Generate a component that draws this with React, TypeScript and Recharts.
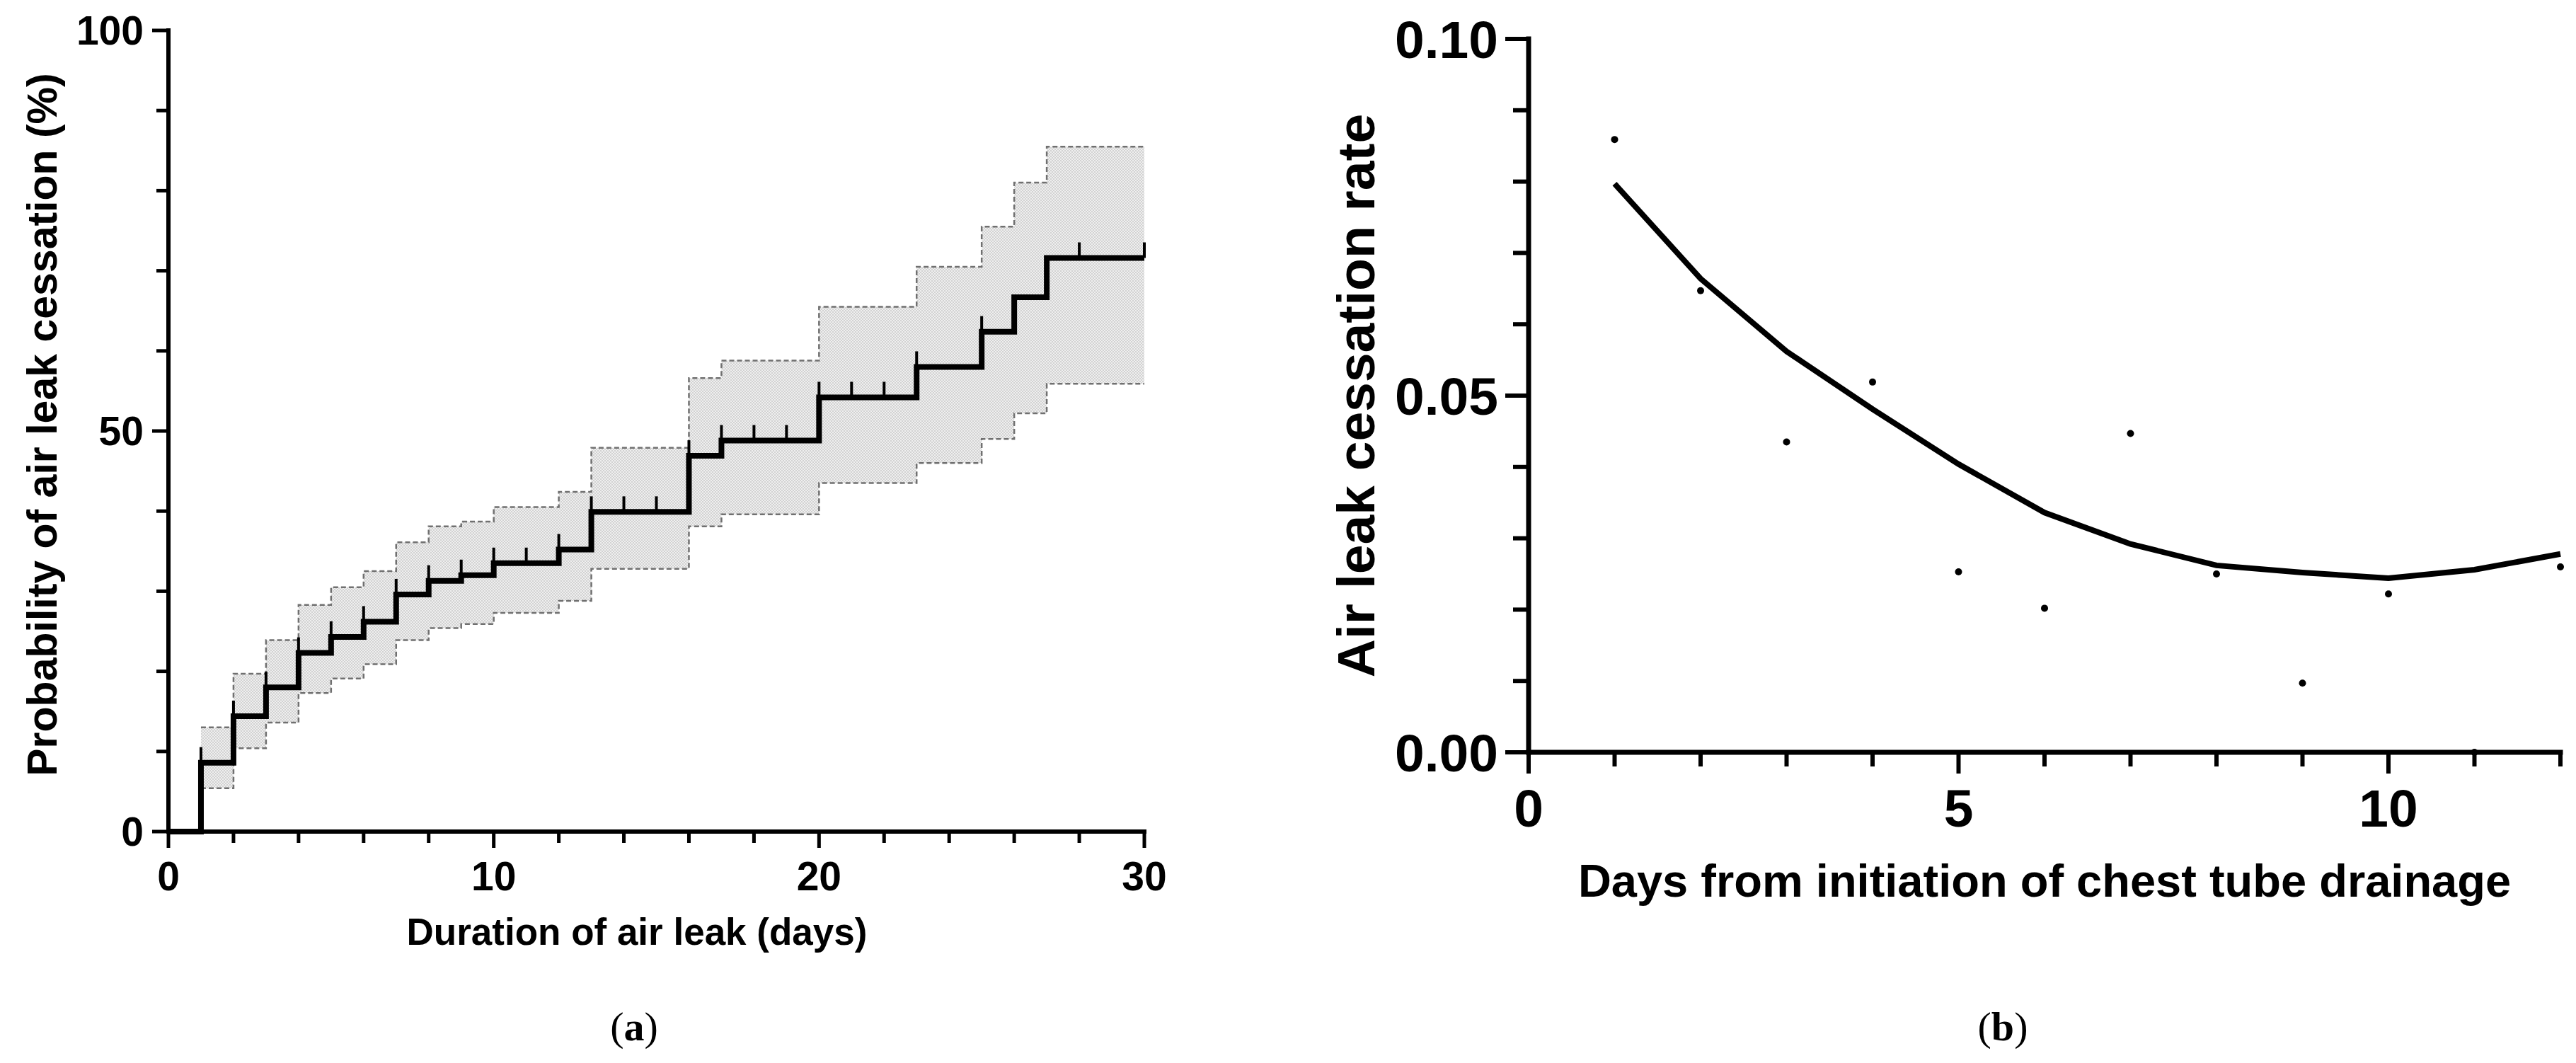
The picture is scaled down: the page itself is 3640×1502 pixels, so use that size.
import React from 'react';
import { ComposedChart, Line, Area, Scatter, XAxis, YAxis } from 'recharts';

const FONT = '"Liberation Sans", Arial, Helvetica, sans-serif';

// (a) Kaplan-Meier curve: step times and values (%)
const kmDays = [0, 1, 2, 3, 4, 5, 6, 7, 8, 9, 10, 12, 13, 16, 17, 20, 23, 25, 26, 27, 30];
const kmValues = [0, 8.6, 14.4, 18.0, 22.3, 24.3, 26.2, 29.6, 31.3, 32.0, 33.5, 35.2, 39.9, 46.9, 48.8, 54.2, 58.0, 62.4, 66.7, 71.6, 71.6];
const ciUpper = [null, 13.0, 19.7, 23.9, 28.3, 30.5, 32.5, 36.1, 38.1, 38.7, 40.5, 42.4, 47.9, 56.6, 58.8, 65.5, 70.5, 75.5, 81.0, 85.5, 85.5];
const ciLower = [null, 5.4, 10.4, 13.6, 17.3, 19.1, 20.9, 23.9, 25.4, 25.9, 27.3, 28.8, 32.8, 38.1, 39.6, 43.5, 46.0, 49.0, 52.2, 55.9, 55.9];
const censorDays = [1, 2, 3, 4, 5, 6, 7, 8, 9, 10, 11, 12, 13, 14, 15, 16, 17, 18, 19, 20, 21, 22, 23, 25, 28, 30];

const leftXTicks = [0, 2, 4, 6, 8, 10, 12, 14, 16, 18, 20, 22, 24, 26, 28, 30];
const leftXMajor = [0, 10, 20, 30];
const leftYTicks = [0, 10, 20, 30, 40, 50, 60, 70, 80, 90, 100];
const leftYMajor = [0, 50, 100];

// (b) daily cessation rate and smoothed curve
const rateDays = [1, 2, 3, 4, 5, 6, 7, 8, 9, 10, 11, 12];
const rateObserved = [0.0859, 0.0647, 0.0435, 0.0519, 0.0253, 0.0202, 0.0447, 0.025, 0.0097, 0.0222, 0.0, 0.026];
const rateFitted = [0.0797, 0.0664, 0.0562, 0.0481, 0.0404, 0.0336, 0.0292, 0.0262, 0.0252, 0.0244, 0.0256, 0.0278];

const rightXTicks = [0, 1, 2, 3, 4, 5, 6, 7, 8, 9, 10, 11, 12];
const rightXMajor = [0, 5, 10];
const rightYTicks = [0, 0.01, 0.02, 0.03, 0.04, 0.05, 0.06, 0.07, 0.08, 0.09, 0.1];
const rightYMajor = [0, 0.05, 0.1];

const kmData = kmDays.map((day, i) => ({
  day,
  km: kmValues[i],
  hi: ciUpper[i],
  lo: ciLower[i],
  band: ciUpper[i] == null ? null : [ciLower[i], ciUpper[i]],
}));

const levelAt = (d: number) => {
  let v = 0;
  kmDays.forEach((k, i) => {
    if (k <= d) v = kmValues[i];
  });
  return v;
};
const censorData = censorDays.map((day) => ({ day, km: levelAt(day) }));

const rateData = rateDays.map((day, i) => ({ day, observed: rateObserved[i], fitted: rateFitted[i] }));

const isIn = (list: number[], v: number) => list.some((m) => Math.abs(m - v) < 1e-9);

const makeYTick =
  (major: number[], majorLen: number, minorLen: number, gap: number, fontSize: number, sw: number, fmt: (v: number) => string) =>
  (props: any) => {
    const { x, y, payload } = props;
    const big = isIn(major, payload.value);
    return (
      <g>
        <line x1={x - (big ? majorLen : minorLen)} x2={x} y1={y} y2={y} stroke="#000" strokeWidth={sw} />
        {big && (
          <text x={x - gap} y={y + fontSize * 0.358} textAnchor="end" fontSize={fontSize} fontWeight="bold" fontFamily={FONT} fill="#000">
            {fmt(payload.value)}
          </text>
        )}
      </g>
    );
  };

const makeXTick =
  (major: number[], majorLen: number, minorLen: number, baseline: number, fontSize: number, sw: number) =>
  (props: any) => {
    const { x, y, payload } = props;
    const big = isIn(major, payload.value);
    return (
      <g>
        <line x1={x} x2={x} y1={y} y2={y + (big ? majorLen : minorLen)} stroke="#000" strokeWidth={sw} />
        {big && (
          <text x={x} y={y + baseline} textAnchor="middle" fontSize={fontSize} fontWeight="bold" fontFamily={FONT} fill="#000">
            {payload.value}
          </text>
        )}
      </g>
    );
  };

const CensorMark = (props: any) => {
  const { cx, cy } = props;
  return <line x1={cx} x2={cx} y1={cy} y2={cy - 22} stroke="#000" strokeWidth={4} />;
};

const Dot = (props: any) => {
  const { cx, cy } = props;
  return <circle cx={cx} cy={cy} r={5} fill="#000" />;
};

function KaplanMeierChart() {
  const axisLine = { stroke: '#000', strokeWidth: 6, strokeLinecap: 'square' as const };
  return (
    <ComposedChart width={1700} height={1300} data={kmData} margin={{ top: 43, right: 83, left: 88, bottom: 25 }}>
      <XAxis
        dataKey="day"
        type="number"
        domain={[0, 30]}
        ticks={leftXTicks}
        interval={0}
        height={100}
        tickSize={0}
        tickMargin={0}
        tickLine={false}
        axisLine={axisLine}
        tick={makeXTick(leftXMajor, 23, 16, 83, 57, 5)}
      />
      <YAxis
        type="number"
        domain={[0, 100]}
        ticks={leftYTicks}
        interval={0}
        width={150}
        tickSize={0}
        tickMargin={0}
        tickLine={false}
        axisLine={axisLine}
        tick={makeYTick(leftYMajor, 23, 17, 35, 57, 5, (v) => String(v))}
      />
      <Area type="stepAfter" dataKey="band" stroke="none" fill="url(#ciPattern)" fillOpacity={1} isAnimationActive={false} />
      <Line type="stepAfter" dataKey="hi" stroke="#707070" strokeWidth={2.5} strokeDasharray="7 4" dot={false} isAnimationActive={false} />
      <Line type="stepAfter" dataKey="lo" stroke="#707070" strokeWidth={2.5} strokeDasharray="7 4" dot={false} isAnimationActive={false} />
      <Line type="stepAfter" dataKey="km" stroke="#000" strokeWidth={8} dot={false} isAnimationActive={false} />
      <Scatter data={censorData} dataKey="km" shape={CensorMark} isAnimationActive={false} />
    </ComposedChart>
  );
}

function RateChart() {
  const axisLine = { stroke: '#000', strokeWidth: 7, strokeLinecap: 'square' as const };
  return (
    <ComposedChart width={1790} height={1200} data={rateData} margin={{ top: 55, right: 22, left: 160, bottom: 37 }}>
      <XAxis
        dataKey="day"
        type="number"
        domain={[0, 12]}
        ticks={rightXTicks}
        interval={0}
        height={100}
        tickSize={0}
        tickMargin={0}
        tickLine={false}
        axisLine={axisLine}
        tick={makeXTick(rightXMajor, 30, 20, 105, 75, 6)}
      />
      <YAxis
        type="number"
        domain={[0, 0.1]}
        ticks={rightYTicks}
        interval={0}
        width={150}
        tickSize={0}
        tickMargin={0}
        tickLine={false}
        axisLine={axisLine}
        tick={makeYTick(rightYMajor, 33, 22, 43, 75, 6, (v) => v.toFixed(2))}
      />
      <Line type="linear" dataKey="fitted" stroke="#000" strokeWidth={8} dot={false} isAnimationActive={false} />
      <Scatter dataKey="observed" shape={Dot} isAnimationActive={false} />
    </ComposedChart>
  );
}

export default function App() {
  return (
    <div style={{ position: 'absolute', left: 0, top: 0, width: 3640, height: 1502, background: '#fff' }}>
      <div style={{ position: 'absolute', left: 0, top: 0 }}>
        <KaplanMeierChart />
      </div>
      <div style={{ position: 'absolute', left: 1850, top: 0 }}>
        <RateChart />
      </div>
      <svg width={3640} height={1502} style={{ position: 'absolute', left: 0, top: 0, pointerEvents: 'none' }}>
        <defs>
          <pattern id="ciPattern" width="4" height="4" patternUnits="userSpaceOnUse">
            <rect width="4" height="4" fill="#efefef" />
            <rect width="2" height="2" fill="#d2d2d2" />
            <rect x="2" y="2" width="2" height="2" fill="#d2d2d2" />
          </pattern>
        </defs>
        <g fontFamily={FONT} fontWeight="bold" fill="#000">
          <text x={80} y={600} transform="rotate(-90 80 600)" textAnchor="middle" fontSize={59}>
            Probability of air leak cessation (%)
          </text>
          <text x={900} y={1335} textAnchor="middle" fontSize={53}>
            Duration of air leak (days)
          </text>
          <text x={1942} y={559} transform="rotate(-90 1942 559)" textAnchor="middle" fontSize={75}>
            Air leak cessation rate
          </text>
          <text x={2889} y={1267} textAnchor="middle" fontSize={65}>
            Days from initiation of chest tube drainage
          </text>
        </g>
        <g fontFamily='"Liberation Serif", "Times New Roman", serif' fontSize={58} fill="#000">
          <text x={896} y={1470} textAnchor="middle">
            (<tspan fontWeight="bold">a</tspan>)
          </text>
          <text x={2830} y={1470} textAnchor="middle">
            (<tspan fontWeight="bold">b</tspan>)
          </text>
        </g>
      </svg>
    </div>
  );
}
